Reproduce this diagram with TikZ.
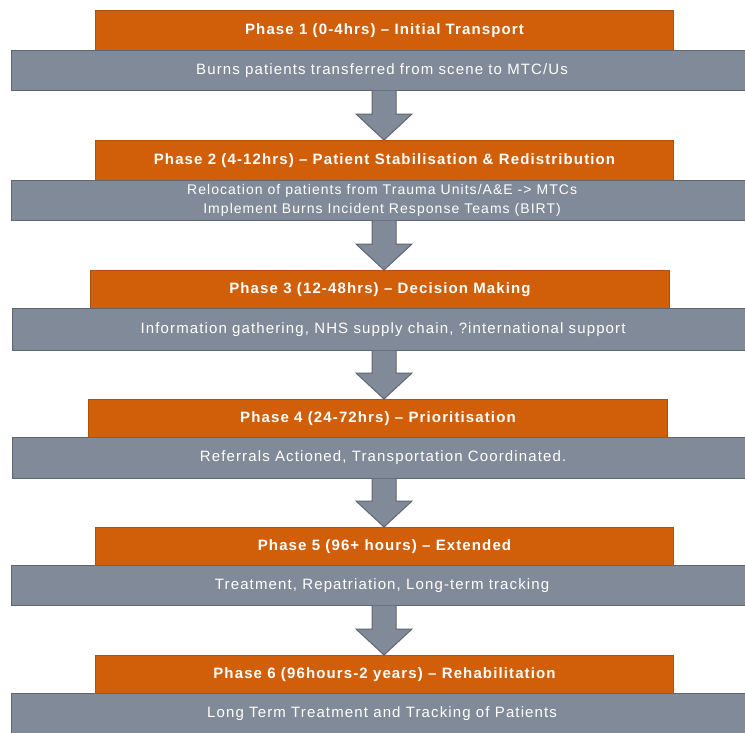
\documentclass[tikz,border=0pt]{standalone}
\usepackage{fontspec}
\setmainfont{Liberation Sans}[LetterSpace=7.5]
\usetikzlibrary{calc}
\definecolor{phaseorange}{RGB}{209,95,10}
\definecolor{phaseorangeline}{RGB}{176,80,14}
\definecolor{boxgray}{RGB}{129,138,152}
\definecolor{boxgrayline}{RGB}{94,102,112}
\begin{document}
\begin{tikzpicture}[x=1pt,y=1pt,
  phasebox/.style={draw=phaseorangeline, fill=phaseorange, line width=1pt, anchor=north west,
    minimum height=40pt, inner sep=0pt, text=white, font=\fontsize{15}{18}\selectfont\bfseries},
  infobox/.style={draw=boxgrayline, fill=boxgray, line width=1.2pt, anchor=north west,
    minimum width=741pt, minimum height=40pt, inner sep=0pt, text=white, align=center,
    font=\fontsize{15}{17}\selectfont},
  downarrow/.style={draw=boxgrayline, fill=boxgray, line width=1pt, line join=miter}]
\useasboundingbox (0,0) rectangle (745,-732);
% phases
\node[phasebox, minimum width=578pt] (p1) at (95,-10) {Phase 1 (0-4hrs) – Initial Transport};
\node[infobox, minimum height=40pt] (g1) at (11,-50) {Burns patients transferred from scene to MTC/Us};
\node[phasebox, minimum width=578pt] (p2) at (95,-140) {Phase 2 (4-12hrs) – Patient Stabilisation \& Redistribution};
\node[infobox, minimum height=40pt, font=\fontsize{14}{18.5}\selectfont] (g2) at (11,-180) {Relocation of patients from Trauma Units/A\&E -{}> MTCs\\Implement Burns Incident Response Teams (BIRT)};
\node[phasebox, minimum width=579pt, minimum height=38pt] (p3) at (90,-270) {Phase 3 (12-48hrs) – Decision Making};
\node[infobox, minimum height=42pt] (g3) at (12,-308) {Information gathering, NHS supply chain, ?international support};
\node[phasebox, minimum width=579pt, minimum height=38pt] (p4) at (88,-399) {Phase 4 (24-72hrs) – Prioritisation};
\node[infobox, minimum height=41pt] (g4) at (12,-437) {Referrals Actioned, Transportation Coordinated.};
\node[phasebox, minimum width=578pt, minimum height=38pt] (p5) at (95,-527) {Phase 5 (96+ hours) – Extended};
\node[infobox, minimum height=40pt] (g5) at (11,-565) {Treatment, Repatriation, Long-term tracking};
\node[phasebox, minimum width=578pt, minimum height=38pt] (p6) at (95,-655) {Phase 6 (96hours-2 years) – Rehabilitation};
\node[infobox, minimum height=40pt] (g6) at (11,-693) {Long Term Treatment and Tracking of Patients};
% arrows
\foreach \a/\b in {g1/p2,g2/p3,g3/p4,g4/p5,g5/p6}{
  \path let \p1=(\a.south), \p2=(\b.north) in
    coordinate (top) at (384,\y1)
    coordinate (tip) at (384,\y2);
  \path let \p1=(top), \p2=(tip) in coordinate (base) at (384,{\y2+26});
  \draw[downarrow] ($(top)+(-12,0.6)$) -- ($(base-|top)+(-12,0)$) -- ($(base-|top)+(-28,0)$) -- (tip)
    -- ($(base-|top)+(28,0)$) -- ($(base-|top)+(12,0)$) -- ($(top)+(12,0.6)$);
}
\end{tikzpicture}
\end{document}
